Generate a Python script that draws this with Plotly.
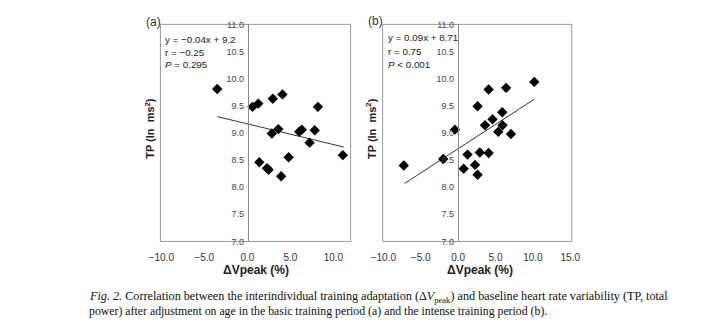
import plotly.graph_objects as go

# Panel (a): basic training period
a_x = [-3.5, 0.6, 1.27, 2.96, 4.08, 8.2, 2.85, 3.6, 6.03, 6.33, 7.83, 7.23, 11.1, 4.8, 1.39, 2.28, 2.47, 3.93]
a_y = [9.81, 9.48, 9.54, 9.63, 9.71, 9.48, 8.99, 9.07, 9.02, 9.06, 9.05, 8.82, 8.59, 8.55, 8.46, 8.35, 8.32, 8.20]
a_fit_x = [-3.5, 11.2]
a_fit_y = [9.30, 8.74]
a_stats = ["y = \u22120.04x + 9.2", "r = \u22120.25", "<i>P</i> = 0.295"]

# Panel (b): intense training period
b_x = [10.18, 4.08, 6.41, 2.6, 5.9, 4.6, 3.6, 5.94, 5.37, 7.06, -0.43, -1.99, 1.26, 2.9, 4.08, -7.27, 0.74, 2.26, 2.6]
b_y = [9.94, 9.80, 9.83, 9.49, 9.38, 9.25, 9.14, 9.14, 9.02, 8.98, 9.06, 8.52, 8.60, 8.64, 8.63, 8.40, 8.34, 8.41, 8.23]
b_fit_x = [-7.14, 10.18]
b_fit_y = [8.07, 9.62]
b_stats = ["y = 0.09x + 8.71", "r = 0.75", "<i>P</i> < 0.001"]

a_xticks = [-10, -5, 0, 5, 10]
b_xticks = [-10, -5, 0, 5, 10, 15]
yticks = [7.0, 7.5, 8.0, 8.5, 9.0, 9.5, 10.0, 10.5, 11.0]

W, H = 704, 322
SANS = "Liberation Sans, Arial, sans-serif"
SERIF = "Liberation Serif, Times New Roman, serif"
GRID = "#9a9a9a"
TXT = "#333333"

def px(xp):
    return xp / W

def py(yp):
    return 1 - yp / H

fig = go.Figure()

for xs, ys, fx, fy, xa, ya in [(a_x, a_y, a_fit_x, a_fit_y, "x", "y"),
                               (b_x, b_y, b_fit_x, b_fit_y, "x2", "y2")]:
    fig.add_trace(go.Scatter(x=fx, y=fy, mode="lines", xaxis=xa, yaxis=ya,
                             line=dict(color="#333333", width=1), showlegend=False))
    fig.add_trace(go.Scatter(x=xs, y=ys, mode="markers", xaxis=xa, yaxis=ya,
                             marker=dict(symbol="diamond", size=8, color="black"),
                             showlegend=False))

a_dom = [px(153), px(349)]
b_dom = [px(382), px(577)]
y_dom = [py(244), py(20)]

xcommon = dict(showgrid=False, zeroline=False, showline=False, ticks="",
               ticklabelstandoff=9, tickformat=".1f",
               tickfont=dict(family=SANS, size=10, color=TXT))
fig.update_layout(
    width=W, height=H, margin=dict(l=0, r=0, t=0, b=0),
    paper_bgcolor="white", plot_bgcolor="white",
    xaxis=dict(domain=a_dom, range=[-10.1, 12.0], tickvals=a_xticks, anchor="y", **xcommon),
    xaxis2=dict(domain=b_dom, range=[-10.1, 15.2], tickvals=b_xticks, anchor="y2", **xcommon),
)
ycommon = dict(domain=y_dom, range=[7.0, 11.0], tickvals=yticks, tickformat=".1f",
               showgrid=False, zeroline=False, showline=True, linecolor="#888888",
               linewidth=1, ticks="", anchor="free", ticklabelstandoff=2,
               tickfont=dict(family=SANS, size=9, color="#444444"))
fig.update_layout(
    yaxis=dict(position=px(243), **ycommon),
    yaxis2=dict(position=px(459.5), **ycommon),
)

# plot frames
for xr, yr in [("x domain", "y domain"), ("x2 domain", "y2 domain")]:
    fig.add_shape(type="rect", xref=xr, yref=yr, x0=0, x1=1, y0=0, y1=1,
                  line=dict(color=GRID, width=1), layer="below")

ann = []
# stats text
for lines, x0, ys in [(a_stats, 156, [36, 49, 61]), (b_stats, 385, [34, 48, 61])]:
    for t, yy in zip(lines, ys):
        ann.append(dict(text=t, x=px(x0), y=py(yy), xref="paper", yref="paper",
                        xanchor="left", yanchor="middle", showarrow=False,
                        font=dict(family=SANS, size=9.8, color="#222222")))
# panel labels
ann.append(dict(text="(a)", x=px(136), y=py(18), xref="paper", yref="paper", xanchor="left",
                yanchor="middle", showarrow=False, font=dict(family=SANS, size=12, color="#333333")))
ann.append(dict(text="(b)", x=px(365), y=py(17), xref="paper", yref="paper", xanchor="left",
                yanchor="middle", showarrow=False, font=dict(family=SANS, size=12, color="#333333")))
# y titles
for xx in [142, 370]:
    ann.append(dict(text="<b>TP (ln  ms<sup>2</sup>)</b>", x=px(xx), y=py(127), xref="paper",
                    yref="paper", xanchor="center", yanchor="middle", textangle=-90,
                    showarrow=False, font=dict(family=SANS, size=11, color="#222222")))
# x titles
for xx in [252, 482]:
    ann.append(dict(text="<b>\u0394Vpeak (%)</b>", x=px(xx), y=py(274), xref="paper",
                    yref="paper", xanchor="center", yanchor="middle", showarrow=False,
                    font=dict(family=SANS, size=12, color="#222222")))
# caption
cap1 = ("<i>Fig. 2.</i> Correlation between the interindividual training adaptation "
        "(\u0394<i>V</i><sub>peak</sub>) and baseline heart rate variability (TP, total")
cap2 = ("power) after adjustment on age in the basic training period (a) and the intense "
        "training period (b).")
ann.append(dict(text=cap1, x=px(77), y=py(301), xref="paper", yref="paper", xanchor="left",
                yanchor="middle", showarrow=False, font=dict(family=SERIF, size=12.2, color="#111111")))
ann.append(dict(text=cap2, x=px(77), y=py(315.5), xref="paper", yref="paper", xanchor="left",
                yanchor="middle", showarrow=False, font=dict(family=SERIF, size=11.8, color="#111111")))
fig.update_layout(annotations=ann)

fig.write_html("out.html")
